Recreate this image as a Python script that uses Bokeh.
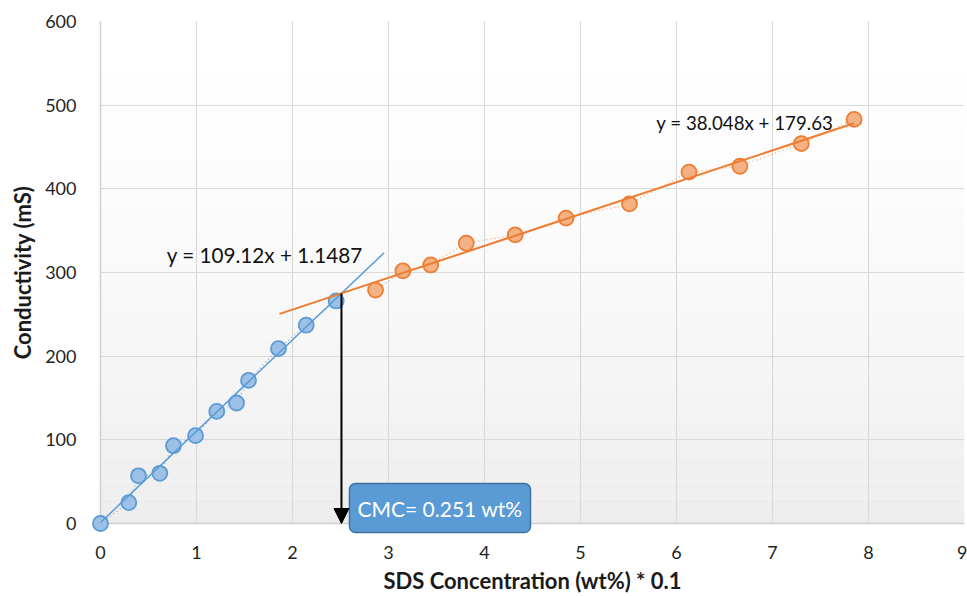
from bokeh.plotting import figure
from bokeh.models import Label, Arrow, NormalHead, BoxAnnotation, ColumnDataSource
from bokeh.core.properties import value
from bokeh.embed import file_html
from bokeh.resources import INLINE

# SDS concentration (wt% * 0.1) and conductivity (mS), below and above the CMC
below_x = [0.0, 0.295, 0.396, 0.618, 0.760, 0.990, 1.211, 1.417, 1.542, 1.854, 2.143, 2.455]
below_y = [0, 25, 57, 60, 93, 105, 134, 144, 171, 209, 237, 266]
above_x = [2.865, 3.15, 3.44, 3.81, 4.32, 4.85, 5.51, 6.13, 6.66, 7.30, 7.85]
above_y = [279, 302, 309, 335, 345, 365, 382, 420, 427, 454, 483]

# linear fits (slope, intercept)
below_fit = (109.12, 1.1487)
above_fit = (38.048, 179.63)

cmc_wt = 0.251          # wt%
x_scale = 0.1           # axis unit is wt% * 0.1

x_ticks = list(range(0, 10))
y_ticks = list(range(0, 700, 100))

FONT = "Lato"
BLUE = "#5b9bd5"
BLUE_FILL = "#9cc0e6"
ORANGE = "#ed7d31"
ORANGE_FILL = "#f4b183"

p = figure(width=967, height=596, x_range=(0, 9), y_range=(0, 600),
           output_backend="svg", toolbar_location=None,
           min_border_left=100, min_border_right=3, min_border_top=21, min_border_bottom=71)
p.background_fill_color = "white"
p.border_fill_color = "white"
p.outline_line_color = None

# soft vertical gradient in the plot area
n_bands = 60
for i in range(n_bands):
    lo = 600 * i / n_bands
    hi = 600 * (i + 1) / n_bands
    t = 1 - (lo + hi) / 2 / 600
    g = int(round(255 - 18 * t ** 1.6))
    p.add_layout(BoxAnnotation(bottom=lo, top=hi, fill_color=(g, g, g), fill_alpha=1.0,
                               line_color=None, level="image"))

# grid and axes
p.xgrid.grid_line_color = "#d9d9d9"
p.ygrid.grid_line_color = "#d9d9d9"
p.xgrid.grid_line_width = 1.2
p.ygrid.grid_line_width = 1.2
p.xaxis.ticker = x_ticks
p.yaxis.ticker = y_ticks
p.xgrid.ticker = x_ticks
p.ygrid.ticker = y_ticks

for ax in (p.xaxis[0], p.yaxis[0]):
    ax.axis_line_color = "#cfcfcf"
    ax.axis_line_width = 1.5
    ax.major_tick_line_color = None
    ax.minor_tick_line_color = None
    ax.major_label_text_font = FONT
    ax.major_label_text_font_size = "18px"
    ax.major_label_text_color = "#1f1f1f"
    ax.axis_label_text_font = FONT
    ax.axis_label_text_font_style = "bold"
    ax.axis_label_text_font_size = "22px"
    ax.axis_label_text_color = "#1a1a1a"

p.xaxis.axis_label = "SDS Concentration (wt%) * 0.1"
p.yaxis.axis_label = "Conductivity (mS)"
p.xaxis.major_label_standoff = 16
p.yaxis.major_label_standoff = 18
p.xaxis.axis_label_standoff = 5
p.yaxis.axis_label_standoff = 6

below = ColumnDataSource(dict(x=below_x, y=below_y))
above = ColumnDataSource(dict(x=above_x, y=above_y))

# dotted connectors between measurements
p.line("x", "y", source=below, line_color="#8fb4de", line_width=1.5, line_dash="1 3")
p.line("x", "y", source=above, line_color=ORANGE_FILL, line_width=1.5, line_dash="1 3")

# measurements (drawn above the frame clip so the origin marker stays whole)
p.scatter("x", "y", source=below, size=15, fill_color=BLUE_FILL, line_color=BLUE,
          line_width=1.8, level="overlay")
p.scatter("x", "y", source=above, size=15, fill_color=ORANGE_FILL, line_color=ORANGE,
          line_width=1.8, level="overlay")

# trendlines: below-CMC fit extended 0.5 forward, above-CMC fit extended 1.0 backward
bx0, bx1 = min(below_x), max(below_x) + 0.5
ax0, ax1 = min(above_x) - 1.0, max(above_x)
p.line([bx0, bx1], [below_fit[0] * bx0 + below_fit[1], below_fit[0] * bx1 + below_fit[1]],
       line_color=BLUE, line_width=1.5, level="overlay")
p.line([ax0, ax1], [above_fit[0] * ax0 + above_fit[1], above_fit[0] * ax1 + above_fit[1]],
       line_color=ORANGE, line_width=2, level="overlay")

# fit equations
eq_style = dict(text_font=FONT, text_color="#111111", text_baseline="middle", text_align="left")
p.add_layout(Label(x=0.69, y=321, text=f"y = {below_fit[0]}x + {below_fit[1]}",
                   text_font_size="20.7px", **eq_style))
p.add_layout(Label(x=5.79, y=479, text=f"y = {above_fit[0]}x + {above_fit[1]}",
                   text_font_size="18.7px", **eq_style))

# CMC marker arrow from the trendline crossing down to the axis
cmc_x = cmc_wt / x_scale
cmc_y = below_fit[0] * cmc_x + below_fit[1]
p.add_layout(Arrow(end=NormalHead(size=15, fill_color="black", line_color="black"),
                   x_start=cmc_x, y_start=cmc_y, x_end=cmc_x, y_end=0,
                   line_color="black", line_width=2, level="overlay"))

# CMC call-out box, allowed to hang over the x axis
cmc_src = ColumnDataSource(dict(x=[cmc_x], y=[0], t=[f"CMC= {cmc_wt} wt%"]))
p.text("x", "y", text="t", source=cmc_src, x_offset=8, y_offset=9, anchor="bottom_left",
       text_font=value(FONT), text_font_size="21px", text_color="white",
       background_fill_color=BLUE, border_line_color="#41719c", border_line_width=1.5,
       padding=(8, 12), border_radius=6, level="overlay")

open("out.html", "w").write(file_html(p, INLINE))
